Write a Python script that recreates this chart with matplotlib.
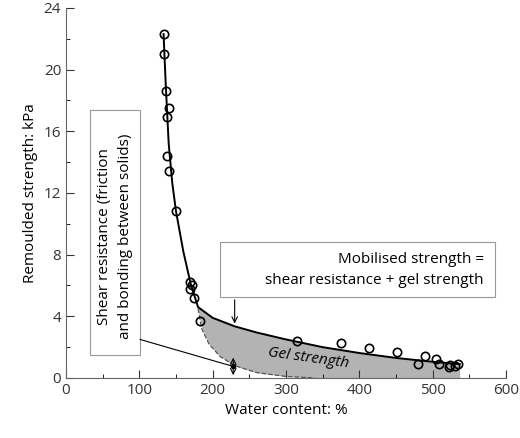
import matplotlib
matplotlib.use("Agg")
import matplotlib.pyplot as plt
import numpy as np

plt.rcParams["font.family"] = "Open Sans"

# measured points
wc = [134, 134, 137, 138, 140, 138, 140, 150, 169, 169, 172, 174, 183,
      315, 375, 413, 451, 480, 489, 505, 508, 522, 523, 530, 534]
su = [22.3, 21.0, 18.6, 16.9, 17.5, 14.4, 13.4, 10.8, 6.2, 5.8, 6.0, 5.2, 3.7,
      2.4, 2.3, 1.95, 1.7, 0.9, 1.4, 1.2, 0.9, 0.7, 0.85, 0.75, 0.9]

# fitted curves
up_x = [133, 136, 140, 145, 150, 160, 170, 180, 200, 230, 260, 300, 350, 400, 450, 500, 537]
up_y = [22.3, 19.0, 15.2, 12.6, 10.8, 8.2, 6.1, 4.6, 3.9, 3.35, 2.95, 2.5, 2.0, 1.62, 1.3, 1.05, 0.9]
lo_x = [180, 185, 195, 210, 230, 260, 300, 340, 537]
lo_y = [4.5, 3.2, 2.2, 1.4, 0.8, 0.35, 0.1, 0.0, 0.0]

fig = plt.figure(figsize=(5.2, 4.38), dpi=100)
ax = fig.add_axes([0.127, 0.137, 0.846, 0.845])

xs = np.linspace(180, 537, 200)
ax.fill_between(xs, np.interp(xs, lo_x, lo_y), np.interp(xs, up_x, up_y),
                color="#b3b3b3", linewidth=0)
ax.plot(up_x, up_y, color="black", lw=1.4)
ax.plot(lo_x[:-1], lo_y[:-1], "--", color="#555555", lw=0.9)
ax.plot(wc, su, "o", mfc="none", mec="black", ms=6, mew=1.2)

ax.text(330, 1.3, "Gel strength", style="italic", fontsize=11, rotation=-8,
        ha="center", va="center")

# mobilised strength box
ax.add_patch(plt.Rectangle((210, 5.25), 375, 3.55, fc="white", ec="#999999", lw=0.8))
ax.text(570, 7.0, "Mobilised strength =\nshear resistance + gel strength",
        fontsize=11, ha="right", va="center", multialignment="right",
        linespacing=1.5)
ax.annotate("", xy=(230, 3.35), xytext=(230, 5.25),
            arrowprops=dict(arrowstyle="->", color="black", lw=0.8))

# shear resistance box + leader
ax.add_patch(plt.Rectangle((33, 1.5), 68, 15.9, fc="white", ec="#999999", lw=0.8))
ax.text(67, 2.5, "Shear resistance (friction\nand bonding between solids)",
        fontsize=11, rotation=90, ha="center", va="bottom", linespacing=1.5)
ax.plot([101, 228], [2.5, 0.75], color="black", lw=0.8)
ax.plot([228], [0.75], "o", color="black", ms=3)
ax.annotate("", xy=(228, 0), xytext=(228, 0.75),
            arrowprops=dict(arrowstyle="->", color="black", lw=0.8))
ax.annotate("", xy=(228, 1.5), xytext=(228, 0.75),
            arrowprops=dict(arrowstyle="->", color="black", lw=0.8))

ax.set_xlim(0, 600)
ax.set_ylim(0, 24)
ax.set_xticks(range(0, 601, 100))
ax.set_xticks(range(50, 600, 100), minor=True)
ax.set_yticks(range(0, 25, 4))
ax.set_yticks(range(2, 24, 4), minor=True)
ax.tick_params(direction="in", length=6, labelsize=11, colors="#333333")
ax.tick_params(which="minor", direction="in", length=3)
for s in ["top", "right"]:
    ax.spines[s].set_visible(False)
for s in ["left", "bottom"]:
    ax.spines[s].set_color("#666666")
ax.set_xlabel("Water content: %", fontsize=11)
ax.set_ylabel("Remoulded strength: kPa", fontsize=11)

fig.savefig("out.png")
